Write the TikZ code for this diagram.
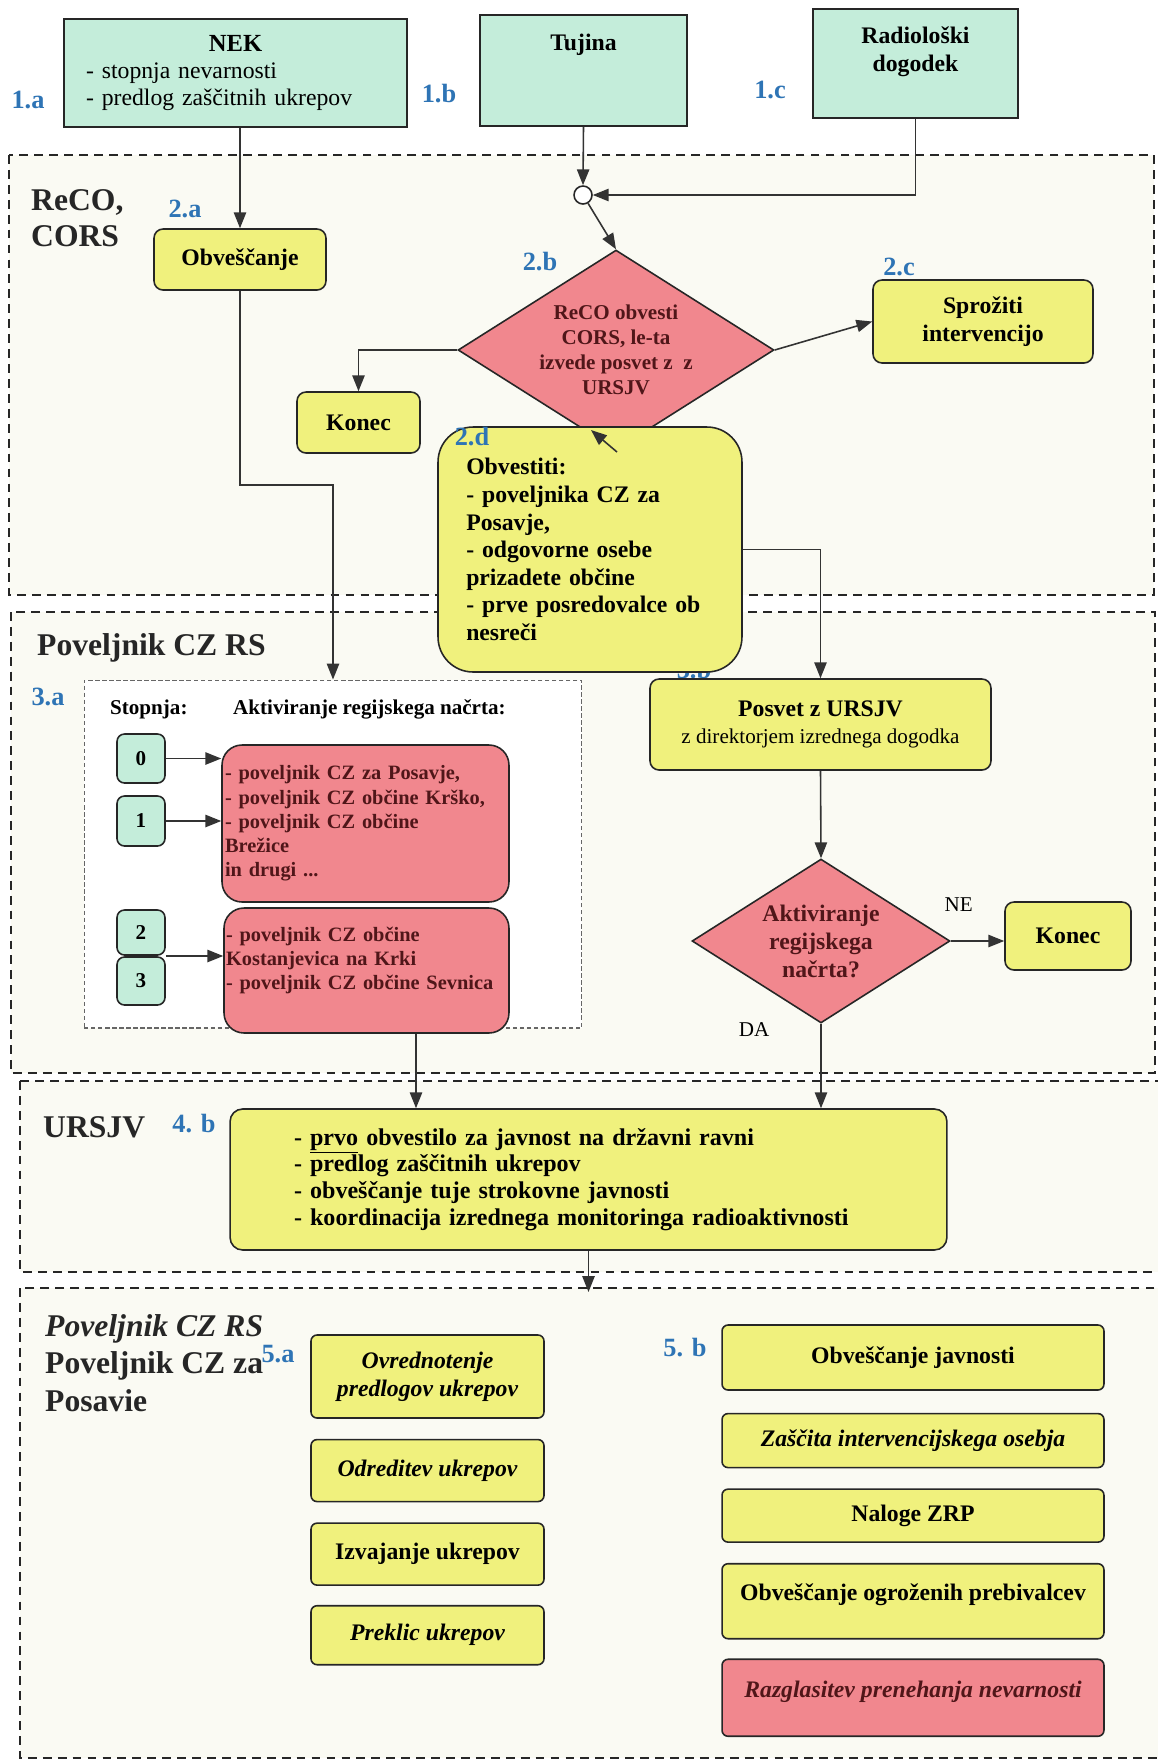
\documentclass[tikz,border=0pt]{standalone}
\usepackage{fontspec}
\setmainfont{Liberation Serif}
\usetikzlibrary{arrows.meta,positioning,shapes.geometric,calc}
\definecolor{mintgreen}{RGB}{196,237,218}
\definecolor{boxyellow}{RGB}{240,241,125}
\definecolor{boxred}{RGB}{241,135,142}
\definecolor{textred}{RGB}{80,22,25}
\definecolor{labelblue}{RGB}{46,116,181}
\definecolor{lanefill}{RGB}{250,250,243}

\tikzset{
  srcbox/.style={draw=black!85,line width=0.9pt,fill=mintgreen,inner sep=0pt,align=center,
    font=\bfseries\fontsize{13.5}{16}\selectfont},
  ybox/.style={draw=black!85,line width=0.9pt,fill=boxyellow,rounded corners=0.18cm,inner sep=0pt,
    align=center,font=\bfseries\fontsize{13.5}{16}\selectfont},
  rbox/.style={draw=black!85,line width=0.9pt,fill=boxred,rounded corners=0.4cm,inner sep=0pt,
    text=textred,align=left,font=\bfseries\fontsize{11.6}{13.8}\selectfont},
  lvlbox/.style={draw=black!85,line width=0.9pt,fill=mintgreen,rounded corners=0.15cm,inner sep=0pt,
    minimum width=0.96cm,font=\bfseries\fontsize{12}{14}\selectfont},
  decide/.style={diamond,draw=black!85,line width=0.9pt,fill=boxred,text=textred,inner sep=0pt,align=center},
  actbox/.style={ybox,rounded corners=0.12cm},
  actit/.style={font=\bfseries\itshape\fontsize{13.5}{16}\selectfont},
  steplabel/.style={text=labelblue,font=\bfseries\fontsize{15}{18}\selectfont},
  lane/.style={draw=black!85,line width=1.1pt,dash pattern=on 5pt off 3.5pt,fill=lanefill},
  lanetitle/.style={anchor=west,align=left,text=black!85,font=\bfseries\fontsize{18}{20.4}\selectfont},
  smalltxt/.style={font=\fontsize{12}{14}\selectfont},
  conn/.style={->,line width=0.9pt,draw=black!80}
}

\begin{document}
\begin{tikzpicture}[x=0.02cm,y=-0.02cm,>={Triangle[length=9pt,width=7pt]}]
\useasboundingbox (0,0) rectangle (1157,1762);
\fill[white] (0,0) rectangle (1157,1762);

% lanes
\draw[lane] (9,155) rectangle (1154,595);
\draw[lane] (11,612) rectangle (1155,1073);
\draw[lane] (20,1081) rectangle (1170,1272);
\draw[lane] (20,1288) rectangle (1170,1758);

\node[lanetitle] (recolbl) at (25,218) {ReCO,\\CORS};
\node[lanetitle] (povlbl) at (31,648) {Poveljnik CZ RS};
\node[lanetitle] (ursjvlbl) at (37,1127) {URSJV};
\node[lanetitle,font=\bfseries\fontsize{18}{21.5}\selectfont] (povposlbl) at (39,1363)
  {\textit{Poveljnik CZ RS}\\Poveljnik CZ za\\Posavie};

% sources
\node[srcbox,font=\fontsize{13.5}{15.6}\selectfont,minimum width=6.86cm,minimum height=2.16cm,
  text width=5.98cm,align=left] (nek) at (235.5,73)
  {\makebox[\linewidth]{\bfseries\fontsize{14}{15.6}\selectfont NEK}\\- stopnja nevarnosti\\- predlog zaščitnih ukrepov};
\node[srcbox,minimum width=4.14cm,minimum height=2.22cm] (tujina) at (583.5,70.5) {Tujina\\~\\~};
\node[srcbox,minimum width=4.1cm,minimum height=2.18cm] (radio) at (915.5,63.5) {Radiološki\\dogodek\\~};

\node[steplabel] (l1a) at (28,100) {1.a};
\node[steplabel] (l1b) at (439,94) {1.b};
\node[steplabel] (l1c) at (770,90) {1.c};
\node[steplabel] (l2a) at (185,209) {2.a};
\node[steplabel] (l2b) at (540,262) {2.b};
\node[steplabel] (l2c) at (899,267) {2.c};
\node[steplabel] (l3a) at (48,697) {3.a};
\node[steplabel] (l3b) at (694,670) {3.b};
\node[steplabel] (l4b) at (194,1124) {4. b};
\node[steplabel] (l5a) at (278,1354) {5.a};
\node[steplabel] (l5b) at (685,1348) {5. b};

% ReCO, CORS
\node[circle,draw=black!85,fill=white,line width=0.9pt,minimum size=0.36cm,inner sep=0pt] (junc) at (583,195) {};
\node[ybox,minimum width=3.44cm,minimum height=1.22cm] (obv) at (240,259.5) {Obveščanje};
\node[decide,minimum width=6.32cm,minimum height=4cm,aspect=1.58,font=\bfseries\fontsize{12}{14.2}\selectfont]
  (reco) at (616,350) {ReCO obvesti\\CORS, le-ta\\izvede posvet z~~z\\URSJV};
\node[ybox,minimum width=2.46cm,minimum height=1.22cm] (konec1) at (358.5,422.5) {Konec};
\node[ybox,minimum width=4.4cm,minimum height=1.66cm] (sproz) at (983,321.5) {Sprožiti\\intervencijo};
\node[ybox,rounded corners=0.7cm,minimum width=6.08cm,minimum height=4.9cm,text width=4.95cm,align=left,
  font=\bfseries\fontsize{13.5}{15.7}\selectfont] (obvest) at (590,549.5)
  {Obvestiti:\\- poveljnika CZ za\\Posavje,\\- odgovorne osebe\\prizadete občine\\- prve posredovalce ob\\nesreči};
\node[steplabel] (l2d) at (472,437) {2.d};

% Poveljnik CZ RS
\node[draw=black!60,line width=0.6pt,dash pattern=on 2.5pt off 1.5pt,fill=white,
  minimum width=9.96cm,minimum height=6.96cm] (akt) at (333,854) {};
\node[anchor=west,font=\bfseries\fontsize{12}{14}\selectfont] (stopnja) at (104,709) {Stopnja:};
\node[anchor=west,font=\bfseries\fontsize{12}{14}\selectfont] (aktnac) at (227,709) {Aktiviranje regijskega načrta:};
\node[lvlbox,minimum height=0.98cm] (lvl0) at (141,758.5) {0};
\node[lvlbox,minimum height=1cm] (lvl1) at (141,821) {1};
\node[lvlbox,minimum height=0.9cm] (lvl2) at (141,932.5) {2};
\node[lvlbox,minimum height=0.96cm] (lvl3) at (141,981) {3};
\node[rbox,minimum width=5.74cm,minimum height=3.14cm,text width=5.62cm] (plana) at (365.5,823.5)
  {- poveljnik CZ za Posavje,\\- poveljnik CZ občine Krško,\\- poveljnik CZ občine\\Brežice\\in drugi ...};
\node[rbox,minimum width=5.7cm,minimum height=2.5cm,text width=5.62cm] (planb) at (366.5,970.5)
  {- poveljnik CZ občine\\Kostanjevica na Krki\\- poveljnik CZ občine Sevnica\\~};

\node[ybox,font=\fontsize{13.5}{15.3}\selectfont,minimum width=6.82cm,minimum height=1.82cm] (posvet) at (820.5,724.5)
  {\textbf{Posvet z URSJV}\\{\fontsize{12}{14}\selectfont z direktorjem izrednega dogodka}};
\node[decide,minimum width=5.16cm,minimum height=3.28cm,aspect=1.57,font=\bfseries\fontsize{13.5}{15.9}\selectfont]
  (aktiv) at (821,941) {Aktiviranje\\regijskega\\načrta?};
\node[ybox,minimum width=2.52cm,minimum height=1.36cm] (konec2) at (1068,936) {Konec};

% URSJV
\node[ybox,rounded corners=0.25cm,minimum width=14.34cm,minimum height=2.82cm,text width=11.78cm,align=left,
  font=\bfseries\fontsize{13.7}{15.3}\selectfont] (ursjv) at (588.5,1179.5)
  {- \underline{prvo} obvestilo za javnost na državni ravni\\- predlog zaščitnih ukrepov\\- obveščanje tuje strokovne javnosti\\- koordinacija izrednega monitoringa radioaktivnosti};

% Poveljnik CZ RS / za Posavje
\node[actbox,actit,minimum width=4.66cm,minimum height=1.66cm] (ovred) at (427.5,1376.5) {Ovrednotenje\\predlogov ukrepov};
\node[actbox,actit,minimum width=4.66cm,minimum height=1.24cm,below=0.4cm of ovred] (odred) {Odreditev ukrepov};
\node[actbox,minimum width=4.66cm,minimum height=1.24cm,below=0.4cm of odred] (izvaj) {Izvajanje ukrepov};
\node[actbox,actit,minimum width=4.66cm,minimum height=1.18cm,below=0.38cm of izvaj] (preklic) {Preklic ukrepov};

\node[actbox,minimum width=7.64cm,minimum height=1.3cm] (javn) at (913,1357.5) {Obveščanje javnosti};
\node[actbox,actit,minimum width=7.64cm,minimum height=1.08cm,below=0.44cm of javn] (zasc) {Zaščita intervencijskega osebja};
\node[actbox,minimum width=7.64cm,minimum height=1.06cm,below=0.4cm of zasc] (zrp) {Naloge ZRP};
\node[actbox,minimum width=7.64cm,minimum height=1.5cm,below=0.4cm of zrp] (prebiv) {Obveščanje ogroženih prebivalcev\\[-6pt]~};
\node[actbox,actit,fill=boxred,text=textred,minimum width=7.64cm,minimum height=1.54cm,below=0.38cm of prebiv] (razgl)
  {Razglasitev prenehanja nevarnosti\\[-6pt]~};

% connectors
\coordinate (bendobv) at (333,485);
\coordinate (d2tail) at (617,452);
\coordinate (d2tip) at (591,430);
\coordinate (xplan) at (416,0);
\coordinate (lane4in) at (588.5,1292);
\coordinate (lvl23) at ($(lvl2.south east)!0.5!(lvl3.north east)$);

\draw[conn] (obv.north |- nek.south) -- (obv.north);
\draw[conn] (tujina.south) -- (junc.north);
\draw[conn] (radio.south) |- (junc.east);
\draw[conn] (junc) -- (reco.north);
\draw[conn] (reco.west) -| (konec1.north);
\draw[conn] (reco.east) -- (sproz.west);
\draw[conn] (d2tail) -- (d2tip);
\draw[conn] (obvest.east) -| (posvet.north);
\draw[conn] (obv.south) |- (bendobv) -- (akt.north);
\draw[conn] (lvl0.east) -- (lvl0.east -| plana.west);
\draw[conn] (lvl1.east) -- (lvl1.east -| plana.west);
\draw[conn] (lvl23) -- (lvl23 -| planb.west);
\draw[conn] (planb.south -| xplan) -- (ursjv.north -| xplan);
\draw[conn] (posvet.south) -- (aktiv.north);
\draw[conn] (aktiv.east) -- node[smalltxt,pos=0.15,above=0.45cm] (ne) {NE} (aktiv.east -| konec2.west);
\draw[conn] (aktiv.south) -- node[smalltxt,pos=0,anchor=north east,xshift=-0.9cm,yshift=0.15cm] (da) {DA}
  (aktiv.south |- ursjv.north);
\draw[conn] (ursjv.south) -- (lane4in);
\end{tikzpicture}
\end{document}
